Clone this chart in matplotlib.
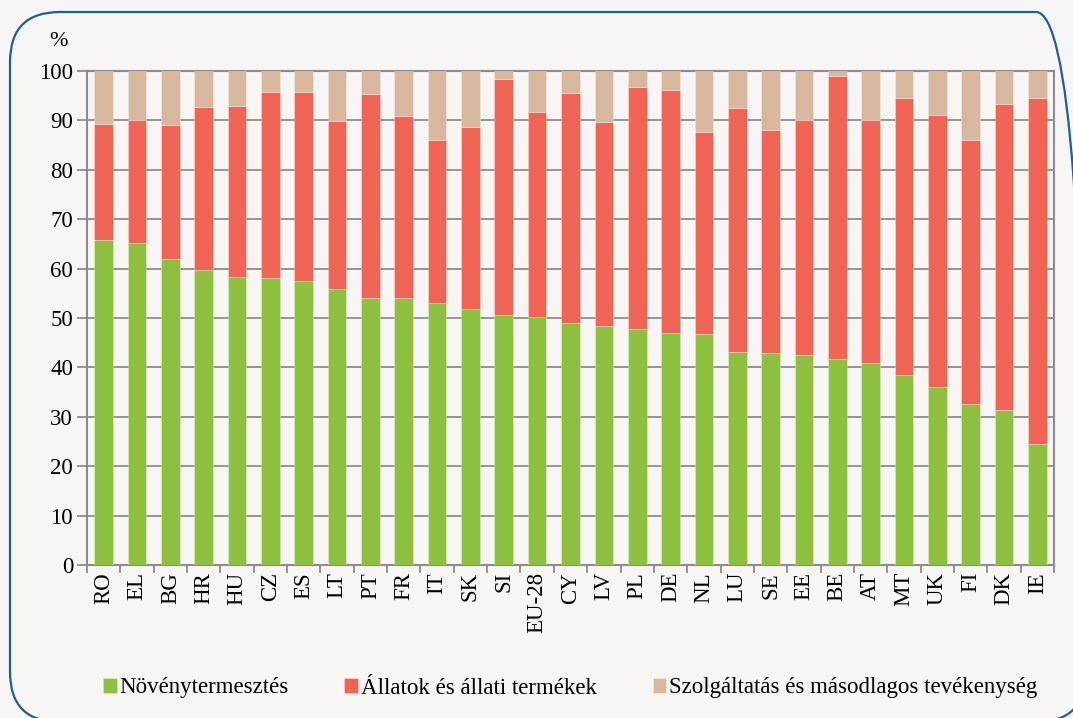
import matplotlib
matplotlib.use("Agg")
import matplotlib.pyplot as plt
from matplotlib.patches import FancyBboxPatch
from matplotlib.transforms import IdentityTransform
import numpy as np

countries = ["RO", "EL", "BG", "HR", "HU", "CZ", "ES", "LT", "PT", "FR", "IT", "SK", "SI", "EU-28",
             "CY", "LV", "PL", "DE", "NL", "LU", "SE", "EE", "BE", "AT", "MT", "UK", "FI", "DK", "IE"]
crops = [65.8, 65.1, 61.9, 59.7, 58.3, 58.1, 57.5, 55.9, 54.1, 54.1, 53.1, 51.8, 50.6, 50.2,
         49.0, 48.4, 47.7, 46.9, 46.7, 43.2, 43.0, 42.5, 41.6, 40.9, 38.5, 36.1, 32.5, 31.4, 24.4]
crops_plus_animals = [89.3, 90.1, 89.0, 92.8, 93.0, 95.7, 95.7, 89.8, 95.3, 90.8, 86.1, 88.6, 98.4, 91.8,
                      95.5, 89.6, 96.8, 96.1, 87.7, 92.6, 88.0, 90.1, 98.9, 90.0, 94.5, 91.0, 86.1, 93.3, 94.5]
animals = [t - c for t, c in zip(crops_plus_animals, crops)]
services = [100 - t for t in crops_plus_animals]

series_names = ["Növénytermesztés", "Állatok és állati termékek", "Szolgáltatás és másodlagos tevékenység"]
colors = ["#8dc03f", "#f06455", "#d7b79d"]

plt.rcParams['font.family'] = ['Liberation Serif', 'DejaVu Serif']
bg = "#f7f6f4"
fig = plt.figure(figsize=(10.73, 7.18), dpi=100, facecolor=bg)

# rounded border (pixel coordinates, origin bottom-left)
left_px, top_px, right_px, bottom_px = 10, 12, 1086, 722
border = FancyBboxPatch((left_px, 718 - bottom_px), right_px - left_px, bottom_px - top_px,
                        boxstyle="round,pad=0,rounding_size=50",
                        transform=IdentityTransform(), facecolor="none",
                        edgecolor="#1d5f9e", linewidth=1.6)
fig.patches.append(border)

ax = fig.add_axes([87 / 1073, 1 - 565 / 718, (1054 - 87) / 1073, (565 - 71) / 718])
ax.set_facecolor(bg)

x = np.arange(len(countries))
w = 0.56
ax.bar(x, crops, w, color=colors[0], label=series_names[0], edgecolor="#ffffff55", linewidth=0.6, zorder=3)
ax.bar(x, animals, w, bottom=crops, color=colors[1], label=series_names[1], edgecolor="#ffffff55", linewidth=0.6, zorder=3)
ax.bar(x, services, w, bottom=crops_plus_animals, color=colors[2], label=series_names[2], edgecolor="#ffffff55", linewidth=0.6, zorder=3)

ax.set_xlim(-0.5, len(countries) - 0.5)
ax.set_ylim(0, 100)
ax.set_yticks(np.arange(0, 101, 10))
ax.yaxis.grid(True, color="#8c8c8c", linewidth=1.3, zorder=0)
ax.set_axisbelow(True)

gray = "#8c8c8c"
for s in ax.spines.values():
    s.set_color(gray)
    s.set_linewidth(1.5)

ax.set_xticks(x)
ax.set_xticklabels(countries, rotation=90, fontsize=16.5)
ax.tick_params(axis='x', which='major', length=0, pad=5)
ax.set_xticks(np.arange(-0.5, len(countries), 1), minor=True)
ax.tick_params(axis='x', which='minor', length=6, color=gray, width=1.3)
ax.tick_params(axis='y', length=7, color=gray, width=1.3, labelsize=16.5, pad=3)

fig.text(58 / 1073, 1 - 42 / 718, "%", fontsize=16, ha="center", va="center")

handles, labels = ax.get_legend_handles_labels()
fig.legend(handles, labels, loc="center", bbox_to_anchor=(570 / 1073, 1 - 688 / 718),
           ncol=3, frameon=False, fontsize=16.5, handlelength=0.6, handleheight=0.6,
           handletextpad=0.1, columnspacing=2.45)

fig.savefig("out.png", dpi=100, facecolor=bg)
